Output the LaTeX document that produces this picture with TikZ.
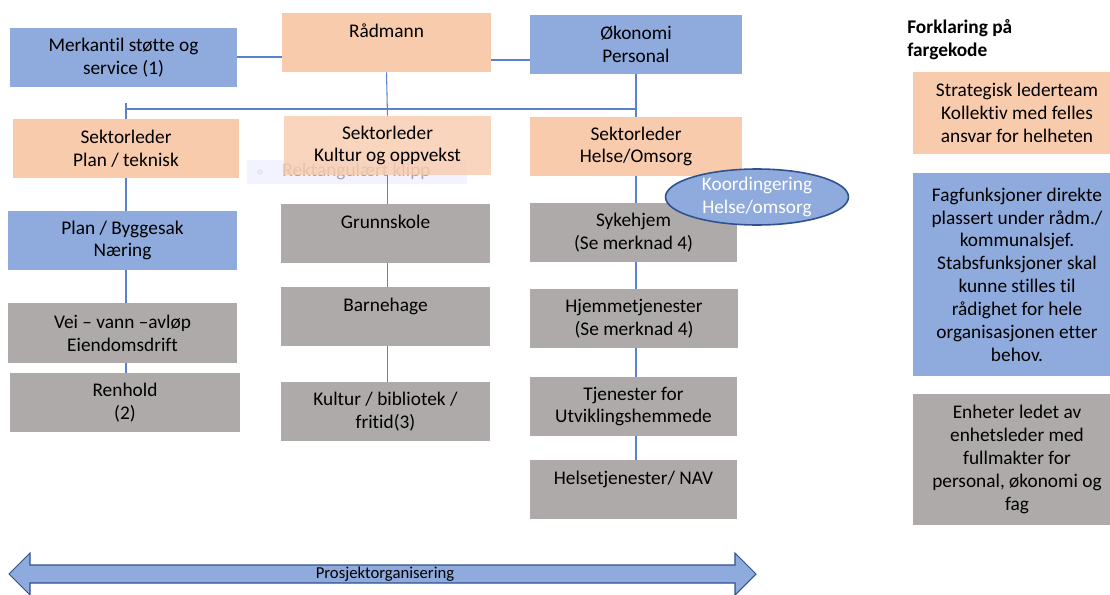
\documentclass[tikz,border=0pt]{standalone}
\usepackage{fontspec}
\setmainfont{Carlito}[Ligatures=NoCommon]
\usetikzlibrary{shapes.geometric}
\definecolor{peach}{HTML}{F8CBAD}
\definecolor{cblue}{HTML}{8FAADC}
\definecolor{cgrey}{HTML}{AEAAAA}
\definecolor{linkblue}{HTML}{5A82CC}
\definecolor{edgeblue}{HTML}{2F528F}
\begin{document}
\begin{tikzpicture}[x=0.02cm, y=-0.02cm,
  unit/.style={rectangle, align=center, inner sep=2pt, font=\fontsize{11}{13}\selectfont},
  lead/.style={unit, fill=peach},
  staff/.style={unit, fill=cblue},
  enh/.style={unit, fill=cgrey},
  link/.style={draw=linkblue, line width=0.6pt}]
\useasboundingbox (0,0) rectangle (1110,595);

% screen clip overlay
\fill[blue!8, opacity=0.6] (247,160) rectangle (467,184);
\fill[gray!25, opacity=0.6] (260,172) circle (3);
\node[text=gray!70, font=\fontsize{11}{13}\selectfont, anchor=west, inner sep=0pt] (klipp) at (282,171) {Rektangulært klipp};

\node[staff, minimum width=4.54cm, minimum height=1.18cm] (merk) at (123.5,57.5) {Merkantil støtte og\\service (1)};
\node[lead, minimum width=4.18cm, minimum height=1.18cm] (rad) at (386.5,42.5) {Rådmann\\\mbox{}};
\node[staff, minimum width=4.24cm, minimum height=1.18cm] (okon) at (636,44.5) {Økonomi\\Personal};

\node[lead, minimum width=4.52cm, minimum height=1.18cm] (plansek) at (126,148.5) {Sektorleder\\Plan / teknisk};
\node[lead, fill opacity=0.8, text opacity=1, minimum width=4.14cm, minimum height=1.18cm] (kulsek) at (387.5,145.5) {Sektorleder\\Kultur og oppvekst};
\node[lead, minimum width=4.24cm, minimum height=1.18cm] (helsek) at (636,146.5) {Sektorleder\\Helse/Omsorg};

\node[staff, minimum width=4.58cm, minimum height=1.18cm] (planbygg) at (122.5,240.5) {Plan / Byggesak\\Næring};
\node[enh, minimum width=4.58cm, minimum height=1.2cm] (vei) at (122.5,333) {Vei – vann –avløp\\Eiendomsdrift};
\node[enh, minimum width=4.6cm, minimum height=1.18cm] (renhold) at (125,402.5) {Renhold\\(2)};

\node[enh, minimum width=4.18cm, minimum height=1.18cm] (grunn) at (385.5,233.5) {Grunnskole\\\mbox{}};
\node[enh, minimum width=4.18cm, minimum height=1.18cm] (barne) at (385.5,316.5) {Barnehage\\\mbox{}};
\node[enh, minimum width=4.18cm, minimum height=1.18cm] (kultur) at (385.5,411.5) {Kultur / bibliotek /\\fritid(3)};

\node[enh, minimum width=4.14cm, minimum height=1.18cm] (syke) at (633.5,232.5) {Sykehjem\\(Se merknad 4)};
\node[enh, minimum width=4.16cm, minimum height=1.18cm] (hjemme) at (634,318.5) {Hjemmetjenester\\(Se merknad 4)};
\node[enh, minimum width=4.14cm, minimum height=1.18cm] (tjen) at (633.5,406.5) {Tjenester for\\Utviklingshemmede};
\node[enh, minimum width=4.14cm, minimum height=1.18cm] (helsetj) at (633.5,489.5) {Helsetjenester/ NAV\\\mbox{}};

\coordinate (tieA) at (0,57);
\coordinate (tieB) at (0,60);
\coordinate (bar) at (0,109);
\draw[link] (merk.east |- tieA) -- (rad.west |- tieA);
\draw[link] (rad.east |- tieB) -- (okon.west |- tieB);
\draw[link] (rad.south) -- (kulsek.north);
\draw[link] (okon.south) -- (helsek.north);
\draw[link] (plansek.north) -- ++(0,-16);
\draw[link] (plansek.north |- bar) -- (okon.south |- bar);

\draw[link] (plansek.south) -- (plansek.south |- planbygg.north);
\draw[link] (plansek.south |- planbygg.south) -- (plansek.south |- vei.north);
\draw[link] (plansek.south |- vei.south) -- (plansek.south |- renhold.north);
\draw[link] (kulsek.south) -- (kulsek.south |- grunn.north);
\draw[link] (kulsek.south |- grunn.south) -- (kulsek.south |- barne.north);
\draw[link] (kulsek.south |- barne.south) -- (kulsek.south |- kultur.north);
\draw[link] (helsek.south) -- (helsek.south |- syke.north);
\draw[link] (helsek.south |- syke.south) -- (helsek.south |- hjemme.north);
\draw[link] (helsek.south |- hjemme.south) -- (helsek.south |- tjen.north);
\draw[link] (helsek.south |- tjen.south) -- (helsek.south |- helsetj.north);

\node[ellipse, draw=edgeblue, line width=0.9pt, fill=cblue, text=white, align=center,
  inner sep=0pt, minimum width=3.66cm, minimum height=1.12cm,
  font=\fontsize{11}{13}\selectfont] (koord) at (757,197) {Koordingering\\Helse/omsorg};

\node[anchor=west, inner sep=0pt, align=left, font=\fontsize{11}{13}\selectfont\bfseries] (forkl) at (907,39.5) {Forklaring på\\fargekode};
\node[lead, minimum width=4.16cm, minimum height=1.64cm] (leglead) at (1017,113) {Strategisk lederteam\\Kollektiv med felles\\ansvar for helheten};
\node[staff, minimum width=4.16cm, minimum height=4.06cm] (legstaff) at (1017,274.5) {Fagfunksjoner direkte\\plassert under rådm./\\kommunalsjef.\\Stabsfunksjoner skal\\kunne stilles til\\rådighet for hele\\organisasjonen etter\\behov.};
\node[enh, minimum width=4.18cm, minimum height=2.62cm] (legenh) at (1017,459.5) {Enheter ledet av\\enhetsleder med\\fullmakter for\\personal, økonomi og\\fag};

\draw[fill=cblue, draw=edgeblue, line width=0.6pt] (9,574) -- (30,553) -- (30,565) -- (735,565) -- (735,553) -- (756,574)
  -- (735,595) -- (735,583) -- (30,583) -- (30,595) -- cycle;
\node[font=\fontsize{9.5}{11}\selectfont, inner sep=0pt] (proj) at (385,574) {Prosjektorganisering};
\end{tikzpicture}
\end{document}
